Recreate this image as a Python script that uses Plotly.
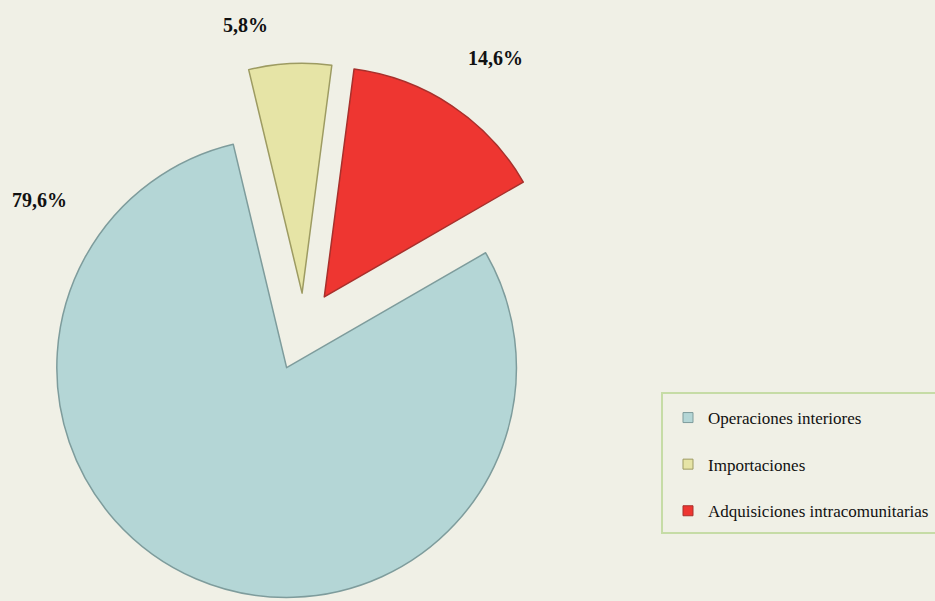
import plotly.graph_objects as go

categories = ["Operaciones interiores", "Importaciones", "Adquisiciones intracomunitarias"]
values = [79.6, 5.8, 14.6]
slice_colors = ["#b4d6d6", "#e6e4a6", "#ee3631"]
edge_colors = ["#7e9c9c", "#9d9b62", "#a8302c"]
pulls = [0.19, 0.15, 0.16]

def fmt(v):
    return f"{v:.1f}".replace(".", ",") + "%"

fig = go.Figure()
fig.add_trace(go.Pie(
    labels=categories, values=values, sort=False, direction="clockwise",
    rotation=60, pull=pulls, textinfo="none", showlegend=False,
    marker=dict(colors=slice_colors, line=dict(color=edge_colors, width=1.5)),
    domain=dict(x=[0.03, 0.62], y=[0.0, 0.91]),
))
for i, c in enumerate(categories):
    fig.add_trace(go.Scatter(
        x=[None], y=[None], mode="markers", name=c, legendgroup=c,
        marker=dict(symbol="square", size=10, color=slice_colors[i],
                    line=dict(color=edge_colors[i], width=1)),
    ))

label_pos = [(39, 200), (245, 25), (495, 58)]
for v, (px, py) in zip(values, label_pos):
    fig.add_annotation(x=px / 935, y=1 - py / 601, xref="paper", yref="paper",
                       xanchor="center", yanchor="middle",
                       text=f"<b>{fmt(v)}</b>", showarrow=False,
                       font=dict(family="Liberation Serif", size=20, color="#111111"))

fig.add_shape(type="rect", xref="paper", yref="paper",
              x0=662 / 935, x1=940 / 935, y0=1 - 533 / 601, y1=1 - 393 / 601,
              line=dict(color="#c6dca6", width=2), fillcolor="rgba(0,0,0,0)", layer="below")

fig.update_layout(
    width=935, height=601,
    margin=dict(l=0, r=0, t=0, b=0, autoexpand=False),
    paper_bgcolor="#f0f0e6", plot_bgcolor="#f0f0e6",
    xaxis=dict(visible=False), yaxis=dict(visible=False),
    showlegend=True,
    legend=dict(x=668 / 935, y=1 - 400 / 601, xanchor="left", yanchor="top",
                bgcolor="rgba(0,0,0,0)", borderwidth=0, tracegroupgap=21.5,
                font=dict(family="Liberation Serif", size=17, color="#111111")),
)
fig.write_html("out.html", config={"displayModeBar": False},
               post_script="document.body.style.margin='0';document.body.style.overflow='hidden';")
